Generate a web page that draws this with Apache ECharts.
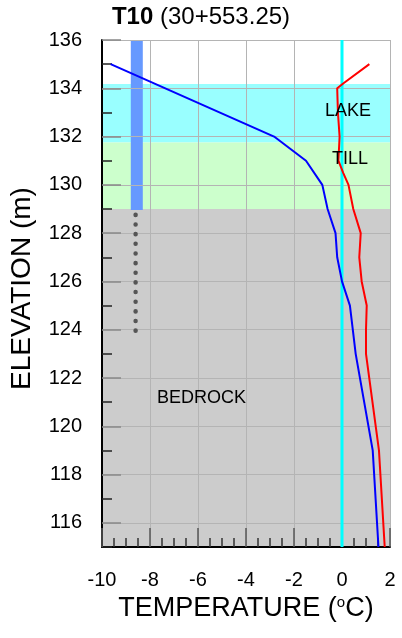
<!DOCTYPE html>
<html>
<head>
<meta charset="utf-8">
<script src="https://cdn.jsdelivr.net/npm/echarts@6/dist/echarts.min.js"></script>
<style>
  html, body { margin: 0; padding: 0; background: #fff; }
  #main { width: 402px; height: 638px; }
</style>
</head>
<body>
<div id="main"></div>
<script>
// sensor string profiles (elevation m, temperature C)
const blueElev = [135, 132, 131, 130, 129, 128, 127, 126, 125, 124, 123, 119, 115];
const blueTemp = [-9.64, -2.83, -1.5, -0.82, -0.6, -0.27, -0.2, 0.0, 0.33, 0.45, 0.57, 1.28, 1.52];

const redElev = [135, 134.2, 134, 133, 132, 131, 130.5, 130, 129, 128, 127, 126, 125, 124, 123, 119, 115];
const redTemp = [1.14, 0.05, -0.2, -0.17, -0.1, -0.15, 0.05, 0.27, 0.47, 0.78, 0.72, 0.82, 1.03, 1.0, 1.0, 1.54, 1.78];

// layers
const layerNames = ["LAKE", "TILL", "BEDROCK"];
const layerTop = [134.18, 131.75, 129];
const layerBottom = [131.75, 129, 115];
const layerLabelTemp = [0.25, 0.33, -5.85];
const layerLabelElev = [133.05, 131.08, 121.16];

// casing bar and borehole below it
const casingTemp = [-8.8, -8.3];
const casingElev = [128.96, 136];
const holeTemp = -8.6;
const holeElev = [128.76, 123.6];

// zero line
const zeroElev = [136, 115];

// axis ticks
const yMajorTicks = [116, 118, 120, 122, 124, 126, 128, 130, 132, 134, 136];
const yMinorTicks = [115, 117, 119, 121, 123, 125, 127, 129, 131, 133, 135];

const LAYER_COLORS = ["#99FFFF", "#CCFFCC", "#CCCCCC"];
const FONT = "Liberation Sans";

const chart = echarts.init(document.getElementById("main"), null, { renderer: "canvas" });

const pairs = (xs, ys) => xs.map((x, i) => [x, ys[i]]);

const option = {
  animation: false,
  textStyle: { fontFamily: FONT },
  title: {
    text: "{b|T10} (30+553.25)",
    left: "center",
    top: 0,
    textStyle: {
      fontSize: 24,
      fontWeight: "normal",
      color: "#000",
      fontFamily: FONT,
      rich: {
        b: { fontSize: 24, fontWeight: "bold", color: "#000", fontFamily: FONT },
      },
    },
  },
  grid: { left: 102, right: 12, top: 40, bottom: 91, containLabel: false },
  xAxis: {
    type: "value",
    min: -10,
    max: 2,
    interval: 2,
    z: 2,
    name: "TEMPERATURE ({sup|o}C)",
    nameLocation: "middle",
    nameGap: 46,
    nameTextStyle: {
      fontSize: 27,
      color: "#000",
      fontFamily: FONT,
      rich: {
        sup: { fontSize: 15, color: "#000", fontFamily: FONT, verticalAlign: "top", padding: [0, 0, 8, 0] },
      },
    },
    axisLine: { show: true, onZero: false, lineStyle: { color: "#000", width: 2 } },
    axisTick: { show: true, inside: true, length: 19, lineStyle: { color: "#555", width: 1.5 } },
    minorTick: { show: true, splitNumber: 4, length: 9, lineStyle: { color: "#333", width: 1.5 } },
    splitLine: { show: true, lineStyle: { color: "#b4b4b4", width: 1 } },
    axisLabel: { fontSize: 20, color: "#000", margin: 23, fontFamily: FONT },
  },
  yAxis: [
    {
      type: "value",
      min: 115,
      max: 136,
      z: 2,
      position: "left",
      name: "ELEVATION (m)",
      nameLocation: "middle",
      nameGap: 66,
      nameTextStyle: { fontSize: 28, color: "#000", fontFamily: FONT, padding: [0, 0, 0, 10] },
      axisLine: { show: true, onZero: false, lineStyle: { color: "#000", width: 2 } },
      axisTick: { show: true, inside: true, length: 19, customValues: yMajorTicks, lineStyle: { color: "#888", width: 1.5 } },
      axisLabel: { fontSize: 20, color: "#000", margin: 20, customValues: yMajorTicks, fontFamily: FONT },
      splitLine: { show: true, lineStyle: { color: "#b4b4b4", width: 1 } },
    },
    {
      type: "value",
      min: 115,
      max: 136,
      z: 2,
      position: "left",
      axisLine: { show: false, onZero: false },
      axisTick: { show: true, inside: true, length: 10, customValues: yMinorTicks, lineStyle: { color: "#222", width: 1.5 } },
      axisLabel: { show: false },
      splitLine: { show: false },
    },
  ],
  series: [
    {
      name: "layers",
      type: "line",
      z: 1,
      silent: true,
      data: [],
      markArea: {
        silent: true,
        data: layerNames.map((n, i) => [
          { yAxis: layerBottom[i], itemStyle: { color: LAYER_COLORS[i], opacity: 1 } },
          { yAxis: layerTop[i] },
        ]),
      },
    },
    {
      name: "borehole",
      type: "line",
      z: 3,
      silent: true,
      symbol: "none",
      data: [[holeTemp, holeElev[0]], [holeTemp, holeElev[1]]],
      lineStyle: { color: "#555", width: 4.5, type: [0.1, 9.55], cap: "round" },
      markArea: {
        silent: true,
        data: [
          [
            { xAxis: casingTemp[0], yAxis: casingElev[0], itemStyle: { color: "#6699FF", opacity: 1 } },
            { xAxis: casingTemp[1], yAxis: casingElev[1] },
          ],
        ],
      },
    },
    {
      name: "zero",
      type: "line",
      z: 3,
      symbol: "none",
      data: [[0, zeroElev[0]], [0, zeroElev[1]]],
      lineStyle: { color: "#00FFFF", width: 3 },
    },
    {
      name: "red",
      type: "line",
      z: 4,
      symbol: "none",
      data: pairs(redTemp, redElev),
      lineStyle: { color: "#FF0000", width: 2 },
    },
    {
      name: "blue",
      type: "line",
      z: 4,
      symbol: "none",
      data: pairs(blueTemp, blueElev),
      lineStyle: { color: "#0000FF", width: 2 },
    },
    {
      name: "layer labels",
      type: "scatter",
      z: 5,
      silent: true,
      symbolSize: 0,
      itemStyle: { opacity: 1 },
      data: layerNames.map((n, i) => ({ name: n, value: [layerLabelTemp[i], layerLabelElev[i]] })),
      label: {
        show: true,
        position: "inside",
        formatter: "{b}",
        fontSize: 18,
        color: "#000",
        opacity: 1,
        fontFamily: FONT,
      },
    },
  ],
};

chart.setOption(option);
</script>
</body>
</html>
